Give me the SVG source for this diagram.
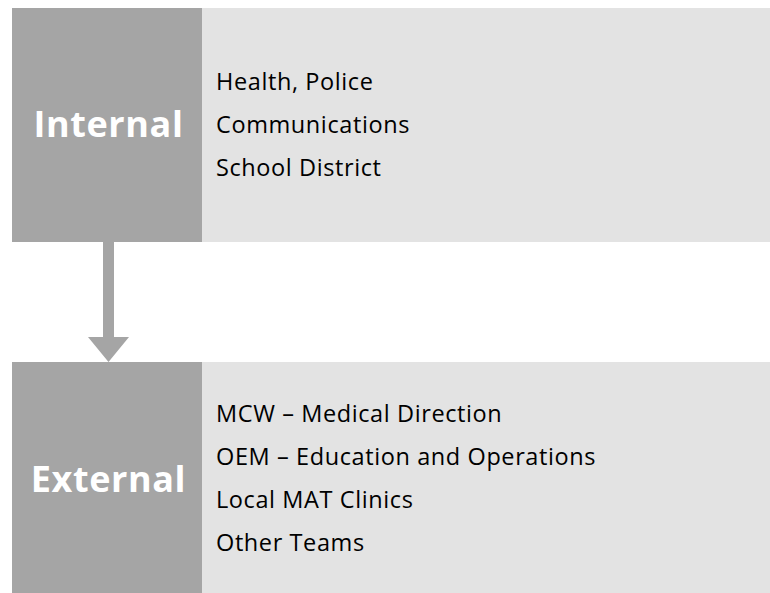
<svg xmlns="http://www.w3.org/2000/svg" width="770" height="593" viewBox="0 0 770 593">
<style>
.dark{fill:#A5A5A5}
.light{fill:#E3E3E3}
.head{font-family:"Open Sans","Liberation Sans",sans-serif;font-weight:bold;font-size:36px;letter-spacing:0.6px;fill:#FFFFFF;text-anchor:middle}
.item{font-family:"Open Sans","Liberation Sans",sans-serif;font-size:23.5px;letter-spacing:0.6px;fill:#000000}
</style>
<rect width="770" height="593" fill="#FFFFFF"/>
<g id="internal">
<rect class="light" x="202" y="8" width="568" height="234"/>
<rect class="dark" x="12" y="8" width="190" height="234"/>
<text class="head" x="108.5" y="137">Internal</text>
<text class="item" x="216" y="90">Health, Police</text>
<text class="item" x="216" y="133">Communications</text>
<text class="item" x="216" y="176">School District</text>
</g>
<g id="connectors">
<path class="dark" d="M103,242 H114 V337 H129 L108.5,362 L88,337 H103 Z"/>
</g>
<g id="external">
<rect class="light" x="202" y="362" width="568" height="231"/>
<rect class="dark" x="12" y="362" width="190" height="231"/>
<text class="head" x="108.5" y="492">External</text>
<text class="item" x="216" y="422">MCW – Medical Direction</text>
<text class="item" x="216" y="465">OEM – Education and Operations</text>
<text class="item" x="216" y="508">Local MAT Clinics</text>
<text class="item" x="216" y="551">Other Teams</text>
</g>
</svg>
